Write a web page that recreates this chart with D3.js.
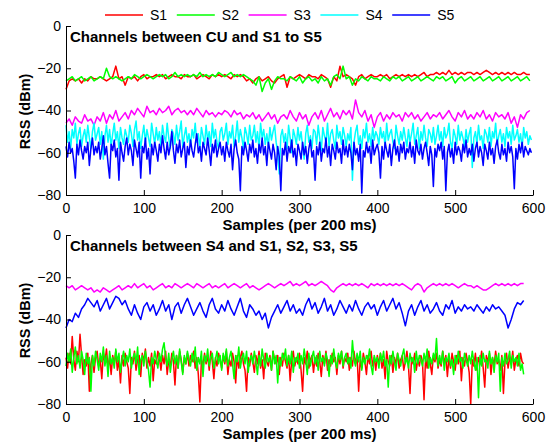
<!DOCTYPE html>
<html>
<head>
    <meta charset="utf-8">
    <title>RSS channels</title>
    <script src="https://d3js.org/d3.v7.min.js"></script>
    <style>
        body { margin: 0; background: #fff; }
        text { font-family: "Liberation Sans", Arial, sans-serif; }
    </style>
</head>
<body>
<div id="chart"></div>
<script type="text/javascript">

// the smooth traces are read every 4 samples, the noisy ones every 2
let coarseStep = 4;
let fineStep = 2;
let seriesNames = ["S1", "S2", "S3", "S4", "S5"];
let xTicks = [0, 100, 200, 300, 400, 500, 600];
let yTicks = [-80, -60, -40, -20, 0];

// ---- top panel : channels between CU and S1..S5 ----
// step 4
let topS1 = [
 -30,-26,-25,-26,-25,-27,-25,-26,-24,-25, -25,-24,-25,-26,-25,-24,-19,-25,-24,-28,
 -24,-25,-24,-26,-24,-23,-25,-24,-24,-23, -24,-23,-25,-24,-23,-24,-24,-25,-23,-24,
 -24,-23,-25,-24,-23,-24,-25,-23,-24,-23, -24,-23,-24,-25,-23,-24,-23,-24,-26,-25,
 -27,-25,-24,-26,-25,-24,-26,-27,-25,-24, -23,-29,-24,-25,-24,-23,-24,-25,-23,-24,
 -24,-25,-23,-24,-25,-29,-24,-26,-19,-24, -23,-24,-25,-28,-24,-23,-25,-24,-23,-24,
 -24,-23,-24,-23,-25,-24,-23,-24,-23,-24, -23,-24,-23,-24,-23,-22,-24,-23,-23,-22,
 -23,-22,-23,-21,-23,-22,-23,-22,-23,-22, -22,-23,-22,-23,-22,-21,-22,-23,-22,-23,
 -22,-23,-22,-23,-22,-23,-23,-22,-23,-23];
// step 4
let topS2 = [
 -26,-25,-24,-26,-25,-24,-26,-25,-24,-26, -25,-24,-25,-20,-24,-25,-24,-25,-26,-25,
 -24,-25,-23,-24,-25,-24,-23,-24,-25,-24, -23,-24,-23,-25,-24,-22,-24,-23,-24,-23,
 -24,-23,-24,-22,-24,-23,-24,-23,-24,-22, -23,-24,-23,-22,-24,-23,-24,-23,-24,-25,
 -26,-28,-24,-31,-27,-25,-30,-26,-24,-25, -25,-26,-24,-25,-26,-24,-27,-25,-24,-26,
 -25,-27,-24,-26,-25,-28,-24,-23,-25,-19, -25,-24,-28,-25,-26,-24,-25,-26,-24,-25,
 -25,-26,-24,-25,-26,-24,-25,-24,-26,-25, -24,-26,-25,-24,-26,-25,-24,-25,-26,-24,
 -25,-24,-26,-25,-24,-27,-25,-24,-26,-25, -24,-26,-25,-24,-26,-25,-24,-26,-25,-24,
 -26,-25,-24,-26,-25,-24,-26,-25,-24,-26];
// step 4
let topS3 = [
 -46,-44,-47,-43,-45,-46,-42,-45,-44,-47, -43,-45,-41,-46,-42,-44,-40,-45,-43,-41,
 -44,-40,-42,-39,-41,-43,-38,-41,-40,-42, -39,-41,-40,-38,-42,-40,-39,-41,-40,-42,
 -40,-42,-39,-41,-43,-40,-42,-41,-43,-41, -42,-40,-41,-43,-40,-42,-41,-44,-42,-43,
 -41,-44,-42,-45,-43,-41,-44,-42,-46,-43, -42,-44,-40,-43,-45,-41,-44,-42,-47,-43,
 -41,-44,-40,-45,-42,-39,-43,-41,-44,-40, -42,-40,-44,-35,-41,-43,-40,-45,-42,-48,
 -43,-41,-45,-42,-44,-41,-43,-42,-45,-41, -43,-41,-44,-42,-45,-43,-41,-44,-42,-43,
 -41,-44,-42,-40,-43,-45,-41,-43,-40,-44, -42,-44,-41,-43,-40,-44,-42,-45,-41,-43,
 -42,-44,-41,-46,-43,-48,-42,-44,-41,-40];
// step 2
let topS4 = [
 -47,-55,-50,-58,-49,-53,-46,-56,-51,-48,-57,-52,-49,-55,-47,-53,-58,-50,-46,-54,
 -51,-48,-56,-50,-63,-52,-47,-55,-49,-57,-51,-46,-54,-50,-58,-48,-53,-56,-49,-52,
 -55,-47,-51,-57,-49,-45,-54,-50,-58,-52,-47,-55,-49,-53,-57,-46,-51,-56,-48,-54,
 -50,-57,-47,-52,-55,-46,-53,-58,-49,-51,-56,-47,-54,-50,-45,-57,-52,-48,-55,-51,
 -57,-49,-53,-46,-55,-51,-58,-48,-52,-56,-47,-54,-50,-57,-46,-53,-49,-55,-58,-50,
 -48,-54,-51,-46,-56,-50,-53,-47,-57,-52,-45,-55,-49,-53,-58,-48,-51,-56,-47,-54,
 -52,-47,-55,-50,-58,-46,-53,-49,-56,-51,-57,-48,-54,-50,-47,-55,-60,-70,-52,-49,
 -55,-51,-58,-47,-53,-60,-49,-52,-56,-48,-54,-50,-57,-63,-51,-47,-55,-52,-58,-49,
 -50,-56,-47,-53,-59,-48,-52,-55,-46,-57,-51,-49,-54,-58,-47,-53,-50,-56,-48,-52,
 -57,-51,-54,-48,-73,-55,-50,-47,-56,-52,-58,-49,-53,-46,-55,-51,-57,-48,-54,-50,
 -52,-56,-48,-53,-50,-57,-46,-54,-51,-49,-55,-58,-47,-52,-56,-50,-54,-48,-53,-57,
 -49,-55,-51,-46,-56,-52,-48,-58,-50,-54,-47,-53,-57,-49,-51,-55,-48,-56,-52,-47,
 -54,-50,-57,-48,-53,-51,-46,-55,-58,-49,-52,-56,-47,-54,-50,-53,-57,-49,-55,-51,
 -48,-67,-53,-50,-56,-47,-54,-52,-58,-49,-51,-55,-48,-57,-50,-53,-46,-56,-52,-49,
 -55,-51,-57,-48,-53,-50,-56,-47,-54,-52,-49,-55,-51,-58,-48,-53,-50,-56,-52,-54];
// step 2
let topS5 = [
 -57,-62,-55,-60,-58,-64,-72,-56,-61,-54,-59,-63,-57,-60,-55,-66,-58,-53,-61,-57,
 -60,-55,-63,-58,-52,-61,-57,-65,-72,-56,-59,-54,-62,-58,-73,-55,-60,-64,-57,-53,
 -61,-56,-59,-66,-54,-58,-62,-55,-72,-57,-60,-53,-63,-58,-70,-56,-61,-55,-59,-64,
 -56,-60,-52,-58,-63,-55,-61,-57,-50,-59,-65,-56,-60,-54,-62,-58,-55,-67,-57,-61,
 -54,-59,-62,-56,-51,-60,-57,-64,-55,-58,-61,-53,-59,-66,-56,-60,-54,-62,-58,-55,
 -61,-57,-64,-55,-59,-62,-56,-68,-58,-54,-60,-63,-78,-57,-61,-55,-59,-64,-56,-60,
 -54,-62,-58,-65,-56,-60,-53,-61,-57,-66,-55,-59,-63,-56,-60,-68,-57,-62,-78,-58,
 -61,-55,-64,-57,-60,-54,-62,-58,-66,-56,-59,-63,-55,-61,-57,-65,-58,-54,-62,-59,
 -73,-57,-61,-55,-64,-58,-60,-53,-62,-57,-66,-56,-59,-63,-55,-60,-58,-65,-54,-61,
 -57,-62,-56,-60,-68,-55,-61,-58,-64,-56,-79,-59,-62,-55,-60,-57,-65,-54,-61,-58,
 -56,-60,-72,-57,-63,-55,-59,-62,-56,-66,-58,-54,-61,-57,-64,-56,-60,-55,-63,-58,
 -60,-55,-62,-57,-65,-54,-59,-61,-56,-63,-58,-55,-60,-66,-57,-61,-76,-58,-62,-56,
 -59,-55,-63,-57,-78,-60,-56,-62,-58,-65,-55,-61,-57,-59,-64,-56,-60,-54,-62,-58,
 -61,-56,-64,-58,-55,-62,-57,-60,-66,-56,-59,-63,-55,-61,-58,-65,-57,-54,-60,-63,
 -56,-61,-58,-64,-55,-60,-57,-62,-77,-58,-63,-56,-60,-55,-62,-57,-59,-61,-58,-60];

// ---- bottom panel : channels between S4 and S1, S2, S3, S5 ----
// step 2
let botS1 = [
 -58,-63,-56,-61,-48,-59,-64,-55,-60,-47,-57,-66,-59,-62,-56,-74,-61,-57,-65,-58,
 -55,-62,-59,-68,-56,-60,-54,-63,-58,-66,-57,-61,-55,-64,-59,-70,-57,-62,-56,-60,
 -63,-75,-58,-61,-55,-64,-59,-57,-67,-56,-60,-54,-63,-58,-62,-56,-69,-59,-61,-55,
 -58,-64,-57,-61,-55,-66,-59,-62,-56,-60,-71,-57,-63,-55,-59,-65,-58,-61,-56,-62,
 -57,-60,-55,-63,-58,-66,-79,-59,-62,-56,-61,-57,-64,-55,-60,-68,-58,-62,-56,-59,
 -63,-57,-61,-55,-66,-59,-62,-56,-60,-70,-57,-63,-58,-55,-61,-64,-74,-58,-62,-56,
 -60,-65,-57,-61,-55,-63,-59,-68,-56,-60,-62,-57,-64,-55,-59,-61,-57,-66,-58,-62,
 -56,-60,-63,-57,-69,-59,-55,-62,-58,-61,-56,-64,-74,-58,-61,-55,-63,-59,-57,-65,
 -58,-62,-56,-60,-67,-57,-61,-55,-64,-59,-62,-56,-60,-58,-66,-57,-61,-55,-63,-58,
 -60,-56,-64,-58,-62,-55,-61,-57,-74,-59,-63,-56,-60,-66,-57,-61,-55,-62,-58,-64,
 -57,-61,-56,-63,-59,-68,-55,-60,-62,-57,-65,-58,-61,-56,-63,-59,-57,-64,-60,-55,
 -62,-75,-58,-61,-56,-64,-59,-62,-57,-60,-78,-58,-63,-55,-61,-66,-57,-60,-56,-63,
 -59,-62,-55,-61,-57,-67,-58,-63,-56,-60,-64,-57,-61,-55,-69,-58,-62,-56,-60,-65,
 -80,-59,-62,-56,-64,-58,-61,-55,-63,-72,-57,-60,-56,-66,-58,-62,-55,-61,-59,-64,
 -57,-75,-60,-56,-63,-58,-61,-55,-64,-59,-57,-62,-56,-60,-61];
// step 2
let botS2 = [
 -62,-56,-60,-54,-65,-58,-53,-61,-57,-63,-55,-59,-66,-56,-61,-58,-74,-57,-62,-55,
 -59,-64,-56,-60,-53,-62,-57,-67,-55,-61,-58,-63,-54,-60,-56,-65,-59,-55,-62,-57,
 -60,-54,-63,-58,-56,-61,-53,-66,-59,-57,-62,-55,-60,-64,-72,-58,-61,-55,-59,-63,
 -56,-60,-54,-51,-58,-62,-56,-65,-59,-55,-61,-57,-63,-54,-60,-66,-57,-61,-55,-59,
 -62,-56,-60,-53,-64,-58,-61,-55,-67,-57,-60,-54,-62,-58,-56,-63,-59,-55,-61,-57,
 -64,-56,-60,-54,-62,-58,-55,-61,-68,-57,-60,-53,-63,-58,-56,-61,-55,-65,-59,-57,
 -61,-55,-60,-66,-57,-62,-54,-59,-63,-56,-60,-58,-64,-55,-61,-57,-70,-58,-62,-56,
 -59,-54,-62,-57,-61,-55,-65,-58,-60,-56,-63,-57,-61,-54,-59,-66,-56,-62,-58,-55,
 -61,-57,-64,-55,-60,-58,-62,-56,-59,-67,-57,-61,-54,-60,-63,-56,-59,-55,-62,-58,
 -56,-61,-58,-63,-50,-59,-62,-56,-60,-55,-64,-58,-61,-57,-59,-54,-62,-66,-57,-60,
 -58,-63,-56,-60,-55,-62,-59,-72,-57,-61,-55,-60,-64,-56,-59,-62,-57,-54,-61,-58,
 -63,-56,-60,-58,-65,-55,-61,-57,-59,-62,-56,-60,-54,-63,-58,-61,-56,-59,-49,-62,
 -57,-61,-55,-64,-58,-60,-56,-62,-59,-66,-57,-61,-55,-60,-58,-63,-56,-59,-62,-57,
 -61,-55,-60,-64,-58,-77,-57,-62,-56,-60,-59,-63,-55,-61,-58,-65,-57,-60,-56,-74,
 -58,-62,-56,-61,-59,-55,-63,-57,-60,-58,-62,-56,-64,-61,-66];
// step 4
let botS3 = [
 -24,-25,-24,-26,-25,-24,-25,-26,-25,-27, -26,-27,-25,-26,-27,-26,-25,-24,-26,-25,
 -24,-25,-23,-25,-24,-23,-25,-24,-26,-25, -24,-23,-25,-24,-25,-23,-24,-25,-24,-23,
 -24,-25,-23,-24,-25,-24,-23,-25,-24,-25, -24,-23,-25,-24,-23,-24,-25,-24,-23,-25,
 -24,-25,-26,-25,-24,-23,-24,-25,-24,-23, -24,-23,-22,-24,-23,-24,-23,-22,-24,-23,
 -24,-23,-22,-23,-24,-26,-27,-25,-24,-23, -24,-23,-24,-23,-24,-23,-24,-25,-23,-24,
 -23,-24,-23,-24,-23,-24,-23,-24,-23,-24, -25,-26,-24,-23,-24,-27,-25,-24,-23,-24,
 -23,-24,-23,-24,-23,-24,-25,-24,-23,-24, -24,-25,-24,-25,-26,-26,-25,-24,-23,-24,
 -23,-24,-23,-24,-23,-24,-23,-23];
// step 4
let botS5 = [
 -44,-40,-41,-37,-39,-35,-33,-30,-32,-34, -31,-36,-33,-30,-35,-32,-29,-30,-33,-31,
 -35,-38,-33,-37,-40,-34,-32,-36,-33,-38, -35,-31,-36,-33,-40,-34,-32,-37,-33,-30,
 -34,-38,-35,-32,-36,-39,-33,-30,-35,-37, -33,-36,-31,-35,-38,-34,-30,-36,-39,-33,
 -35,-38,-36,-40,-37,-44,-39,-36,-33,-37, -34,-31,-36,-33,-37,-35,-38,-33,-30,-35,
 -32,-37,-34,-30,-36,-33,-38,-35,-31,-34, -37,-33,-36,-31,-35,-38,-34,-32,-35,-33,
 -38,-34,-31,-36,-33,-30,-35,-32,-37,-43, -36,-33,-38,-34,-31,-36,-33,-37,-35,-32,
 -36,-38,-33,-35,-31,-37,-34,-36,-33,-35, -34,-36,-33,-35,-37,-34,-36,-33,-35,-34,
 -36,-38,-44,-40,-35,-32,-33,-31];

let colors = {S1: "#ff0000", S2: "#00ff00", S3: "#ff00ff", S4: "#00ffff", S5: "#0000ff"};

let panels = [
    {title: "Channels between CU and S1 to S5", top: 26, bottom: 195,
     series: [["S1", topS1, coarseStep], ["S2", topS2, coarseStep], ["S3", topS3, coarseStep],
              ["S4", topS4, fineStep], ["S5", topS5, fineStep]]},
    {title: "Channels between S4 and S1, S2, S3, S5", top: 235, bottom: 404,
     series: [["S1", botS1, fineStep], ["S2", botS2, fineStep], ["S3", botS3, coarseStep],
              ["S5", botS5, coarseStep]]}
];

let W = 555, H = 445;
let plotLeft = 66, plotRight = 533;

let svg = d3.select("#chart")
    .append("svg")
    .attr("width", W)
    .attr("height", H);

let xScale = d3.scaleLinear().domain([0, 600]).range([plotLeft, plotRight]);

panels.forEach(function(p) {
    let yScale = d3.scaleLinear().domain([-80, 0]).range([p.bottom, p.top]);

    let g = svg.append("g");

    p.series.forEach(function(s) {
        let step = s[2];
        let line = d3.line()
            .x(function(d, i) { return xScale(i * step); })
            .y(function(d) { return yScale(d); });

        g.append("path")
            .datum(s[1])
            .attr("fill", "none")
            .attr("stroke", colors[s[0]])
            .attr("stroke-width", 1.5)
            .attr("stroke-linejoin", "round")
            .attr("d", line);
    });

    let xAxis = d3.axisBottom(xScale)
        .tickValues(xTicks)
        .tickSizeInner(-5)
        .tickSizeOuter(0)
        .tickPadding(8);

    let yAxis = d3.axisLeft(yScale)
        .tickValues(yTicks)
        .tickSizeInner(-5)
        .tickSizeOuter(0)
        .tickPadding(8);

    let gx = g.append("g")
        .attr("transform", "translate(0," + p.bottom + ")")
        .call(xAxis);
    let gy = g.append("g")
        .attr("transform", "translate(" + plotLeft + ",0)")
        .call(yAxis);

    [gx, gy].forEach(function(a) {
        a.selectAll("text")
            .attr("font-family", "'Liberation Sans', Arial, sans-serif")
            .attr("font-size", "14px")
            .attr("fill", "#000");
        a.selectAll("line, path").attr("stroke", "#000");
    });
    gy.selectAll("text").attr("dx", "3px");

    g.append("text")
        .attr("x", plotLeft + 4)
        .attr("y", p.top + 16)
        .attr("font-size", "15px")
        .attr("font-weight", "bold")
        .text(p.title);

    g.append("text")
        .attr("x", (plotLeft + plotRight) / 2)
        .attr("y", p.bottom + 35)
        .attr("text-anchor", "middle")
        .attr("font-size", "15px")
        .attr("font-weight", "bold")
        .text("Samples (per 200 ms)");

    g.append("text")
        .attr("transform", "translate(30," + ((p.top + p.bottom) / 2 + 1) + ") rotate(-90)")
        .attr("text-anchor", "middle")
        .attr("font-size", "14.5px")
        .attr("font-weight", "bold")
        .text("RSS (dBm)");
});

// legend across the top
let legend = svg.append("g");
seriesNames.forEach(function(name, i) {
    let x0 = 105 + i * 71.8;
    legend.append("line")
        .attr("x1", x0).attr("x2", x0 + 38)
        .attr("y1", 15).attr("y2", 15)
        .attr("stroke", colors[name])
        .attr("stroke-width", 1.4);
    legend.append("text")
        .attr("x", x0 + 45)
        .attr("y", 20)
        .attr("font-size", "14px")
        .text(name);
});

</script>
</body>
</html>
